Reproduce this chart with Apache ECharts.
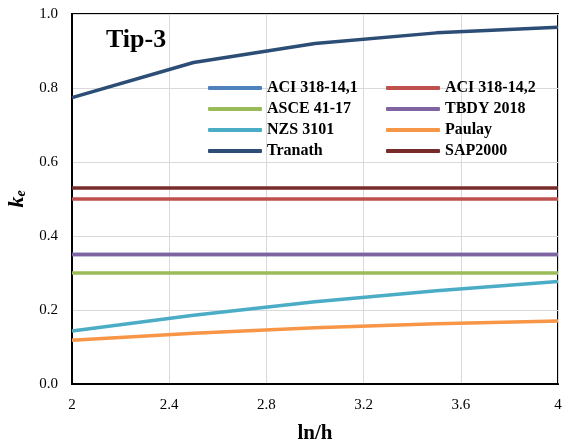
<!DOCTYPE html>
<html>
<head>
<meta charset="utf-8">
<script src="https://cdn.jsdelivr.net/npm/echarts@6/dist/echarts.min.js"></script>
<style>
  html, body { margin: 0; padding: 0; background: #fff; }
  #chart { width: 564px; height: 445px; }
</style>
</head>
<body>
<div id="chart"></div>
<script>
// Effective stiffness ratio k_e versus ln/h, section type 3
const lnh = [2, 2.5, 3, 3.5, 4];
const aci1 = [0.35, 0.35, 0.35, 0.35, 0.35];
const aci2 = [0.5, 0.5, 0.5, 0.5, 0.5];
const asce = [0.3, 0.3, 0.3, 0.3, 0.3];
const tbdy = [0.35, 0.35, 0.35, 0.35, 0.35];
const nzs = [0.143, 0.186, 0.222, 0.252, 0.277];
const paulay = [0.118, 0.137, 0.152, 0.163, 0.170];
const tranath = [0.774, 0.869, 0.920, 0.949, 0.964];
const sap = [0.53, 0.53, 0.53, 0.53, 0.53];

const seriesDefs = [
  { name: 'ACI 318-14,1', data: aci1, color: '#4F81BD', z: 2 },
  { name: 'ACI 318-14,2', data: aci2, color: '#C0504D', z: 3 },
  { name: 'ASCE 41-17', data: asce, color: '#9BBB59', z: 3 },
  { name: 'TBDY 2018', data: tbdy, color: '#8064A2', z: 4 },
  { name: 'NZS 3101', data: nzs, color: '#4BACC6', z: 4 },
  { name: 'Paulay', data: paulay, color: '#F79646', z: 4 },
  { name: 'Tranath', data: tranath, color: '#2C4D75', z: 5 },
  { name: 'SAP2000', data: sap, color: '#772C2A', z: 5 }
];

const serif = '"Liberation Serif", "Times New Roman", serif';
const legendText = { fontFamily: serif, fontWeight: 'bold', fontSize: 16, color: '#000' };

function makeLegend(names, left) {
  return {
    data: names,
    orient: 'vertical',
    left: left,
    top: 80,
    padding: 0,
    itemWidth: 54,
    itemHeight: 4,
    itemGap: 5,
    icon: 'roundRect',
    textStyle: legendText,
    selectedMode: false
  };
}

const chart = echarts.init(document.getElementById('chart'));
chart.setOption({
  animation: false,
  backgroundColor: '#fff',
  title: {
    text: 'Tip-3',
    left: 101,
    top: 22,
    textStyle: { fontFamily: serif, fontWeight: 'bold', fontSize: 26, color: '#000' }
  },
  legend: [
    makeLegend(['ACI 318-14,1', 'ASCE 41-17', 'NZS 3101', 'Tranath'], 208),
    makeLegend(['ACI 318-14,2', 'TBDY 2018', 'Paulay', 'SAP2000'], 386)
  ],
  grid: {
    left: 72, right: 6, top: 14, bottom: 61,
    outerBoundsMode: 'none',
    show: true, borderColor: '#000', borderWidth: 2, backgroundColor: 'transparent'
  },
  xAxis: {
    type: 'value',
    min: 2, max: 4, interval: 0.4,
    name: 'ln/h',
    nameLocation: 'middle',
    nameGap: 39,
    nameTextStyle: { fontFamily: serif, fontWeight: 'bold', fontSize: 21, color: '#000' },
    axisLine: { show: true, lineStyle: { color: '#000', width: 2 } },
    axisTick: { show: false },
    axisLabel: {
      margin: 14,
      fontFamily: serif, fontSize: 15, color: '#000',
      formatter: v => String(+v.toFixed(1))
    },
    splitLine: { show: true, lineStyle: { color: '#D9D9D9', width: 1 } }
  },
  yAxis: {
    type: 'value',
    min: 0, max: 1, interval: 0.2,
    name: '{k|k}{e|e}',
    nameLocation: 'middle',
    nameRotate: 90,
    nameGap: 41,
    nameTextStyle: {
      rich: {
        k: { fontFamily: serif, fontStyle: 'italic', fontWeight: 'bold', fontSize: 22, color: '#000' },
        e: { fontFamily: serif, fontStyle: 'italic', fontWeight: 'bold', fontSize: 14, color: '#000', verticalAlign: 'bottom', padding: [8, 0, 0, 0] }
      }
    },
    axisLine: { show: true, lineStyle: { color: '#000', width: 2 } },
    axisTick: { show: false },
    axisLabel: {
      margin: 14,
      fontFamily: serif, fontSize: 15, color: '#000',
      formatter: v => v.toFixed(1)
    },
    splitLine: { show: true, lineStyle: { color: '#D9D9D9', width: 1 } }
  },
  series: seriesDefs.map(s => ({
    name: s.name,
    type: 'line',
    data: lnh.map((x, i) => [x, s.data[i]]),
    showSymbol: false,
    symbol: 'none',
    z: s.z,
    itemStyle: { color: s.color },
    lineStyle: { color: s.color, width: 3.5 }
  }))
});
</script>
</body>
</html>
